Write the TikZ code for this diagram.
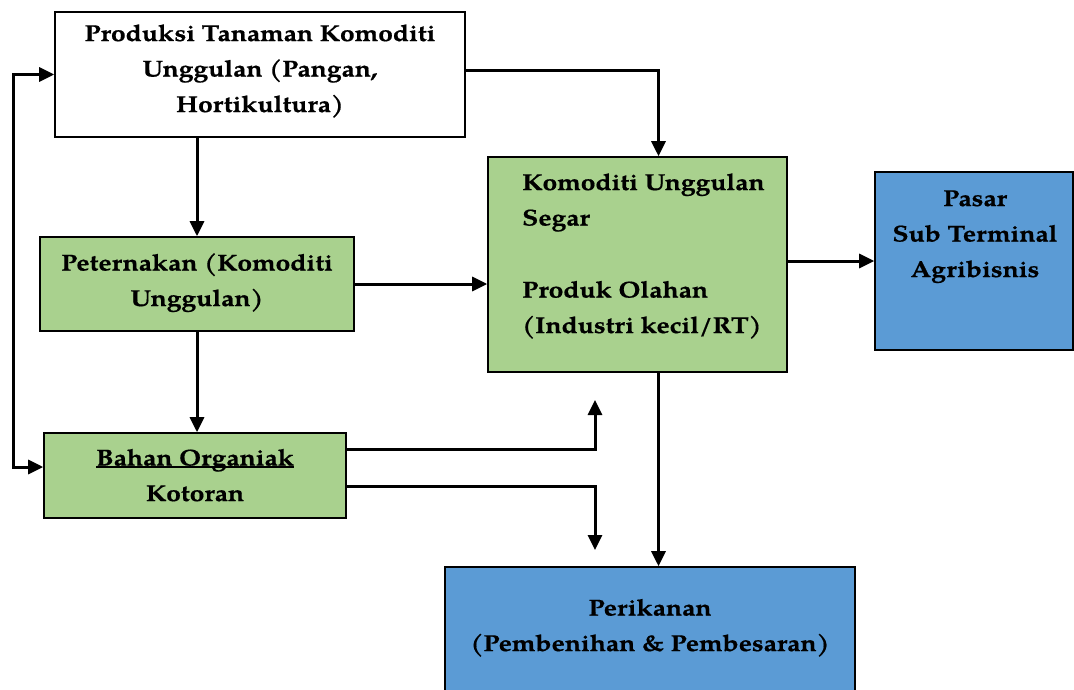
\documentclass[tikz,border=0pt]{standalone}
\usepackage{fontspec}
\setmainfont{texgyrepagella}[Extension=.otf,UprightFont=*-regular,BoldFont=*-bold,ItalicFont=*-italic,BoldItalicFont=*-bolditalic,BoldFeatures={FakeStretch=1.15,FakeBold=0.6}]
\usetikzlibrary{arrows.meta,calc}
\definecolor{boxgreen}{HTML}{A9D18E}
\definecolor{boxblue}{HTML}{5B9BD5}
\newcommand\myul[1]{\setbox0\hbox{#1}\rlap{\rule[-2.5pt]{\wd0}{1.6pt}}\box0}
\tikzset{
  x=1pt,y=-1pt,
  box/.style={draw=black,line width=1.6pt,rectangle,inner sep=0pt},
  gbox/.style={box,fill=boxgreen},
  bbox/.style={box,fill=boxblue},
  wbox/.style={box,fill=white},
  txt/.style={inner sep=0pt,anchor=base,align=center,font=\fontsize{23}{35.5}\selectfont\bfseries},
  arr/.style={line width=3pt,-{Triangle[length=15pt,width=14pt]}},
  darr/.style={line width=3pt,{Triangle[length=15pt,width=14pt]}-{Triangle[length=15pt,width=14pt]}},
}
\begin{document}
\begin{tikzpicture}
\clip (0,0) rectangle (1074,690);
\fill[white] (0,0) rectangle (1074,690);
% boxes (text nodes anchored at the baseline of their last line)
\node[wbox,minimum width=410,minimum height=125] (top) at (260,74.5) {};
\node[txt] (topt) at (260,112)
  {Produksi Tanaman Komoditi\\Unggulan (Pangan,\\Hortikultura)};
\node[gbox,minimum width=314,minimum height=94] (pet) at (197,284) {};
\node[txt] (pett) at (197,306) {Peternakan (Komoditi\\Unggulan)};
\node[gbox,minimum width=302,minimum height=85] (bah) at (195,475.5) {};
\node[txt] (baht) at (195,501) {\myul{Bahan Organiak}\\Kotoran};
\node[gbox,minimum width=299,minimum height=215] (kom) at (637.5,264.5) {};
\node[txt,anchor=base west,align=left] (komt) at (522,333)
  {Komoditi Unggulan\\Segar\\[36.5pt]Produk Olahan\\(Industri kecil/RT)};
\node[bbox,minimum width=198,minimum height=178] (pas) at (974,261) {};
\node[txt] (past) at (975,277) {Pasar\\Sub Terminal\\Agribisnis};
\node[bbox,minimum width=410,minimum height=130] (per) at (650,632) {};
\node[txt] (pert) at (650,651) {Perikanan\\(Pembenihan \& Pembesaran)};
% connectors
\coordinate (fbtop) at (13,74.5);
\coordinate (fbbot) at (13,467);
\draw[darr] (fbtop -| top.west) -- (fbtop) -- (fbbot) -- (fbbot -| bah.west);
\draw[arr] (top.south -| pet.center) -- (pet.north);
\draw[arr] (pet.south) -- (pet.south |- bah.north);
\draw[arr] ([yshift=3.5]top.east) -| ([xshift=21]kom.north);
\draw[arr] (pet.east) -- (pet.east -| kom.west);
\draw[arr] (pas.west -| kom.east) -- (pas.west);
\draw[arr] ([xshift=21]kom.south) -- ([xshift=21]kom.south |- per.north);
\coordinate (up) at (595,400);
\coordinate (dn) at (595,550);
\draw[arr] ([yshift=26.5]bah.east) -| (up);
\draw[arr] ([yshift=-10.5]bah.east) -| (dn);
\end{tikzpicture}
\end{document}
